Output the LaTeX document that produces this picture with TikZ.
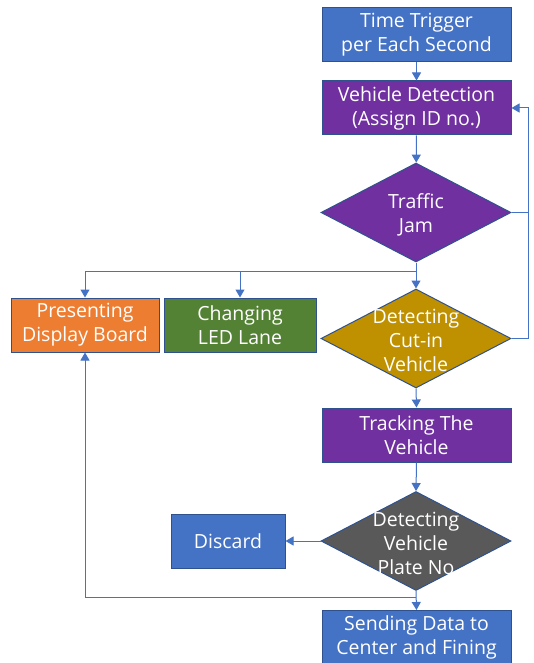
\documentclass[tikz,border=0pt]{standalone}
\usepackage{fontspec}
\setmainfont{Open Sans}
\usetikzlibrary{arrows.meta,shapes.geometric}
\definecolor{cblue}{HTML}{4472C4}
\definecolor{cborder}{HTML}{2F528F}
\definecolor{cpurple}{HTML}{7030A0}
\definecolor{corange}{HTML}{ED7D31}
\definecolor{cgreen}{HTML}{548235}
\definecolor{cgold}{HTML}{BF9000}
\definecolor{cgray}{HTML}{595959}
\tikzset{
  box/.style={draw=cborder, line width=1pt, text=white, align=center, inner sep=0pt,
    font=\fontsize{19.5}{24}\selectfont, execute at begin node={\vspace*{5pt}}},
  dia/.style={diamond, draw=cborder, line width=1pt, inner sep=0pt,
    minimum width=190pt, minimum height=99pt, aspect=1.92},
  diatext/.style={text=white, align=center, inner sep=0pt, yshift=-2pt, font=\fontsize{19.5}{24}\selectfont},
  conn/.style={draw=cblue, line width=1pt},
  arr/.style={conn, -{Triangle[width=9pt,length=8pt]}},
}
\begin{document}
\begin{tikzpicture}[x=1pt,y=-1pt]
\useasboundingbox[fill=white] (0,0) rectangle (533,663);
% boxes
\node[box, fill=cblue, minimum width=189pt, minimum height=54pt] (tt) at (416.5,35) {Time Trigger\\per Each Second};
\node[box, fill=cpurple, minimum width=189pt, minimum height=54pt] (vd) at (416.5,108) {Vehicle Detection\\(Assign ID no.)};
\node[dia, fill=cpurple] (tj) at (416,212.5) {};
\node[diatext] (tjt) at (tj.center) {Traffic\\Jam};
\node[box, fill=corange, minimum width=148pt, minimum height=54pt] (pd) at (85,325) {Presenting\\Display Board};
\node[box, fill=cgreen, minimum width=152pt, minimum height=54pt] (cl) at (240,325) {Changing\\LED Lane};
\node[dia, fill=cgold] (ci) at (416,338.5) {};
\node[diatext] (cit) at (ci.center) {Detecting\\Cut-in\\Vehicle};
\node[box, fill=cpurple, minimum width=189pt, minimum height=54pt] (tv) at (416.5,435) {Tracking The\\Vehicle};
\node[dia, fill=cgray] (pn) at (416,541) {};
\node[diatext] (pnt) at (pn.center) {Detecting\\Vehicle\\Plate No};
\node[box, fill=cblue, minimum width=114pt, minimum height=54pt] (dc) at (228,541) {Discard};
\node[box, fill=cblue, minimum width=189pt, minimum height=54pt, anchor=north] (sd) at (416.5,610) {Sending Data to\\Center and Fining};
% connectors
\coordinate (r1) at (528,212.5);
\coordinate (r2) at (528,108);
\coordinate (r3) at (528,338.5);
\coordinate (j1) at (416,271);
\coordinate (j2) at (416,597);
\draw[arr] (tt) -- (vd);
\draw[arr] (vd) -- (tj);
\draw[arr] (tj.east) -- (r1) -- (r2) -- (vd.east);
\draw[conn] (ci.east) -- (r3) -- (r1);
\draw[arr] (tj.south) -- (ci.north);
\draw[arr] (j1) -| (cl.north);
\draw[arr] (j1) -| (pd.north);
\draw[arr] (ci.south) -- (tv.north);
\draw[arr] (tv.south) -- (pn.north);
\draw[arr] (pn.west) -- (dc.east);
\draw[arr] (pn.south) -- (sd.north);
\draw[arr] (j2) -| (pd.south);
\end{tikzpicture}
\end{document}
